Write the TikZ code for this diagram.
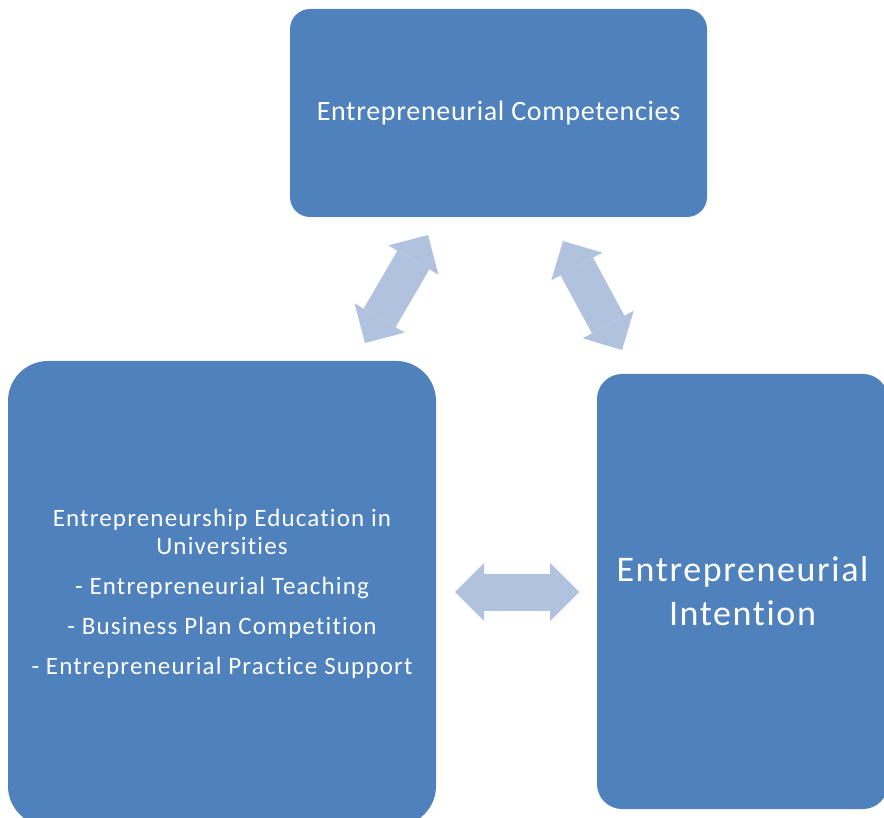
\documentclass[tikz,border=0pt]{standalone}
\usepackage{fontspec}
\setmainfont{Carlito}[Ligatures={NoCommon,NoContextual}]
\newfontfamily\edufont{Carlito}[Ligatures={NoCommon,NoContextual},LetterSpace=4.7]
\newfontfamily\intentfont{Carlito}[Ligatures={NoCommon,NoContextual},LetterSpace=4.5]
\newfontfamily\compfont{Carlito}[Ligatures={NoCommon,NoContextual},LetterSpace=2.4]
\usetikzlibrary{arrows.meta}
\definecolor{boxblue}{HTML}{4F81BD}
\definecolor{arrowblue}{HTML}{B1C2DE}
\begin{document}
\begin{tikzpicture}[x=1pt,y=1pt,
  card/.style={rectangle, fill=boxblue, text=white, align=center, inner sep=0pt},
  link/.style={arrowblue, line width=37pt,
    {Triangle[length=29pt,width=58pt,line width=0pt]}-{Triangle[length=29pt,width=58pt,line width=0pt]}}
]
\useasboundingbox (0,0) rectangle (884,-818);
\clip (0,0) rectangle (884,-818);

% the three concept boxes
\node[card, rounded corners=20pt, minimum width=417pt, minimum height=208pt,
      font=\compfont\fontsize{28}{32}\selectfont] (comp) at (498.5,-113)
  {Entrepreneurial Competencies};
\node[card, rounded corners=40pt, minimum width=428pt, minimum height=465pt,
      font=\edufont\fontsize{25}{28}\selectfont] (edu) at (222,-593.5)
  {Entrepreneurship Education in\\ Universities\\[12pt]
   - Entrepreneurial Teaching\\[12pt]
   - Business Plan Competition\\[12pt]
   - Entrepreneurial Practice Support};
\node[card, rounded corners=25pt, minimum width=291pt, minimum height=435pt,
      font=\intentfont\fontsize{36}{44}\selectfont] (intent) at (742.5,-591.5)
  {Entrepreneurial\\ Intention};

% end points of the two-headed block arrows
\coordinate (eduUp)    at (365,-343);
\coordinate (compLeft) at (428,-235);
\coordinate (compRight) at (563,-241);
\coordinate (intentUp) at (622,-350);
\coordinate (eduRight) at (455,-592);
\coordinate (intentLeft) at (579,-592);

\draw[link] (eduUp) -- (compLeft);
\draw[link] (compRight) -- (intentUp);
\draw[link] (eduRight) -- (intentLeft);
\end{tikzpicture}
\end{document}
